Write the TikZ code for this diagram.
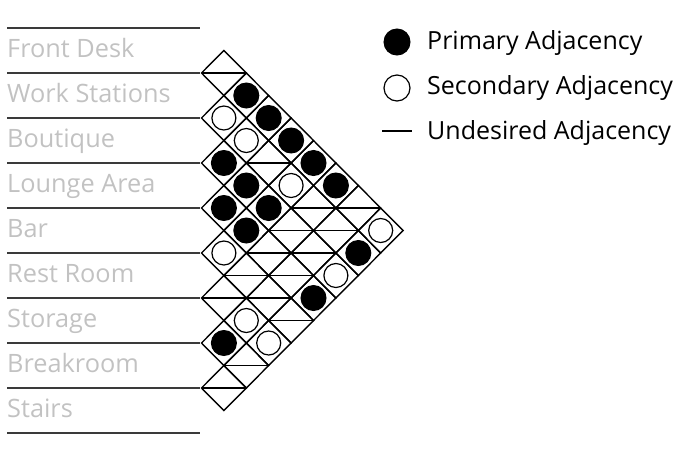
\documentclass[tikz,border=0pt]{standalone}
\usepackage{fontspec}
\setmainfont{Open Sans}
\usetikzlibrary{calc}
\definecolor{labelgray}{HTML}{C2C2C2}
\definecolor{rulegray}{HTML}{3A3A3A}
\begin{document}
\begin{tikzpicture}[x=1pt,y=-1pt,
  roomlabel/.style={anchor=base west,inner sep=0pt,text=labelgray,font=\fontsize{25.3}{28}\selectfont},
  legendtext/.style={anchor=base west,inner sep=0pt,text=black,font=\fontsize{25}{28}\selectfont},
  rowrule/.style={draw=rulegray,line width=1.6pt},
  cell/.style={draw=black,line width=1.4pt,line join=miter},
  primary/.style={circle,fill=black,draw=black,line width=1pt,minimum size=25pt,inner sep=0pt},
  secondary/.style={circle,fill=white,draw=black,line width=1.2pt,minimum size=24pt,inner sep=0pt},
  undesired/.style={draw=black,line width=1.4pt}]
\useasboundingbox (0,0) rectangle (695,456);
% room labels and rules
\foreach \t [count=\i from 0] in {Front Desk,Work Stations,Boutique,Lounge Area,Bar,Rest Room,Storage,Breakroom,Stairs}{
  \node[roomlabel] (room\i) at (7,{57+45*\i}) {\t};
}
\foreach \k in {0,...,9}{
  \coordinate (rl\k) at (7,{28+45*\k});
  \coordinate (rr\k) at (200,{28+45*\k});
  \draw[rowrule] (rl\k) -- (rr\k);
}
% grid cells
\def\xL{201.5}\def\hw{22.4}\def\hh{22.5}
\foreach \i in {0,...,7}{
  \pgfmathtruncatemacro{\jstart}{\i+1}
  \foreach \j in {\jstart,...,8}{
    \pgfmathsetmacro{\cx}{\xL+\hw*(\j-\i)}
    \pgfmathsetmacro{\cy}{50.5+22.5*(\i+\j)}
    \coordinate (c\i-\j) at (\cx,\cy);
    \draw[cell] ($(c\i-\j)+(-\hw,0)$) -- ($(c\i-\j)+(0,-\hh)$) -- ($(c\i-\j)+(\hw,0)$) -- ($(c\i-\j)+(0,\hh)$) -- cycle;
  }
}
% primary adjacencies
\foreach \p in {0-2,0-3,0-4,0-5,0-6,2-3,2-4,3-4,2-5,3-5,1-8,3-8,6-7}{
  \node[primary] (p\p) at (c\p) {};
}
% secondary adjacencies
\foreach \p in {1-2,1-3,1-5,0-8,4-5,2-8,5-7,5-8}{
  \node[secondary] (s\p) at (c\p) {};
}
% undesired adjacencies
\foreach \p in {0-1,1-4,0-7,1-6,1-7,2-6,2-7,3-6,3-7,4-6,4-7,5-6,4-8,6-8,7-8}{
  \draw[undesired] ($(c\p)+(-\hw,0)$) -- ($(c\p)+(\hw,0)$);
}
% legend
\node[primary,minimum size=26pt] (legp) at (397,42) {};
\node[secondary,minimum size=26pt] (legs) at (397,88) {};
\coordinate (legu1) at (382,131);
\coordinate (legu2) at (412,131);
\draw[undesired,line width=1.2pt] (legu1) -- (legu2);
\node[legendtext] (legpt) at (427,49.5) {Primary Adjacency};
\node[legendtext] (legst) at (427,94.5) {Secondary Adjacency};
\node[legendtext] (legut) at (427,139) {Undesired Adjacency};
\end{tikzpicture}
\end{document}
